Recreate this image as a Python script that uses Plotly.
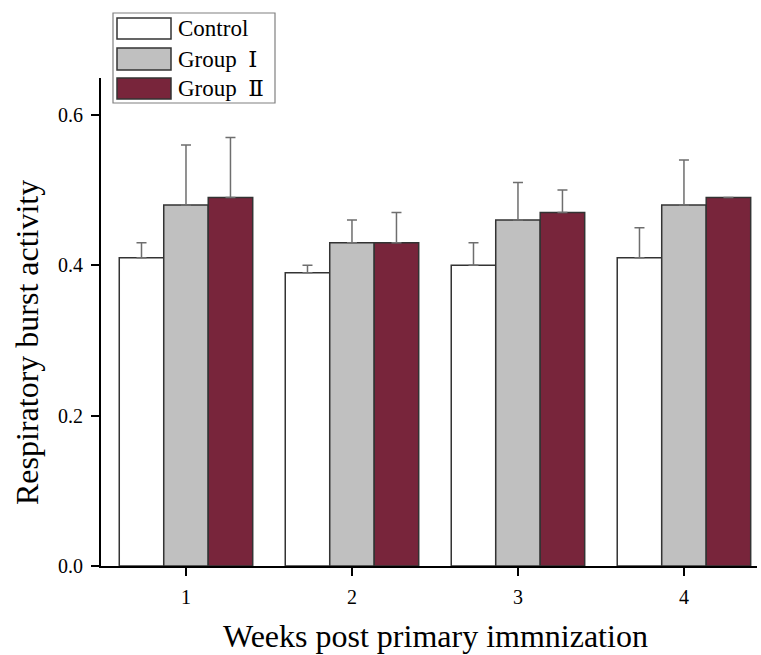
import plotly.graph_objects as go

weeks = [1, 2, 3, 4]
tick_labels = ["1", "2", "3", "4"]
series_names = ["Control", "Group\u2002Ⅰ", "Group\u2002Ⅱ"]
control = [0.41, 0.39, 0.40, 0.41]
group1 = [0.48, 0.43, 0.46, 0.48]
group2 = [0.49, 0.43, 0.47, 0.49]
control_err = [0.02, 0.01, 0.03, 0.04]
group1_err = [0.08, 0.03, 0.05, 0.06]
group2_err = [0.08, 0.04, 0.03, None]

colors = ["#ffffff", "#c0c0c0", "#78253b"]
FONT = "Liberation Serif, Times New Roman, serif"
LEGFONT = "Liberation Serif, DejaVu Serif, serif"

fig = go.Figure()
for name, vals, errs, col in zip(series_names, [control, group1, group2],
                                 [control_err, group1_err, group2_err], colors):
    fig.add_trace(go.Bar(
        x=weeks, y=vals, name=name,
        marker=dict(color=col, line=dict(color="#333333", width=1.5)),
        error_y=dict(type="data", array=errs, symmetric=False,
                     arrayminus=[0 if e is not None else None for e in errs],
                     color="#6e6e6e", thickness=1.5, width=5),
        showlegend=False,
    ))

# manual legend (box + swatches + labels) in pixel-like paper coordinates
W, H = 761, 655
ml, mr, mt, mb = 101, 4, 78, 89
pw, ph = W - ml - mr, H - mt - mb
def px(x):
    return (x - ml) / pw
def py(y):
    return (H - mb - y) / ph

shapes = [dict(type="rect", xref="paper", yref="paper",
               x0=px(113), x1=px(275), y0=py(103), y1=py(13),
               line=dict(color="#808080", width=1.2), fillcolor="rgba(255,255,255,1)")]
annotations = []
rows = [(18, 39), (48, 70), (78, 99)]
for (y0, y1), name, col in zip(rows, series_names, colors):
    shapes.append(dict(type="rect", xref="paper", yref="paper",
                       x0=px(117), x1=px(171), y0=py(y1), y1=py(y0),
                       line=dict(color="#333333", width=1.5), fillcolor=col))
    annotations.append(dict(xref="paper", yref="paper", x=px(176), y=py((y0 + y1) / 2),
                            text=name, showarrow=False, xanchor="left", yanchor="middle",
                            font=dict(family=LEGFONT, size=23, color="#000")))

# axis titles
annotations.append(dict(xref="paper", yref="paper", x=px(436), y=py(636),
                        text="Weeks post primary immnization", showarrow=False,
                        xanchor="center", yanchor="middle",
                        font=dict(family=FONT, size=32, color="#000")))
annotations.append(dict(xref="paper", yref="paper", x=px(27), y=py(343),
                        text="Respiratory burst activity", showarrow=False, textangle=-90,
                        xanchor="center", yanchor="middle",
                        font=dict(family=FONT, size=32, color="#000")))

fig.update_layout(
    width=W, height=H,
    margin=dict(l=ml, r=mr, t=mt, b=mb),
    paper_bgcolor="white", plot_bgcolor="white",
    barmode="group", bargap=0.196, bargroupgap=0,
    font=dict(family=FONT, color="#000"),
    shapes=shapes, annotations=annotations,
    xaxis=dict(range=[0.488, 4.44], tickvals=weeks, ticktext=tick_labels,
               showline=True, linecolor="#000", linewidth=2, showgrid=False,
               zeroline=False, ticks="outside", ticklen=8, tickwidth=2, tickcolor="#000",
               ticklabelstandoff=4,
               tickfont=dict(size=20, family=FONT)),
    yaxis=dict(range=[0, 0.649], tickvals=[0, 0.2, 0.4, 0.6],
               ticktext=["0.0", "0.2", "0.4", "0.6"],
               showline=True, linecolor="#000", linewidth=2, showgrid=False,
               zeroline=False, ticks="outside", ticklen=8, tickwidth=2, tickcolor="#000",
               ticklabelstandoff=4,
               tickfont=dict(size=20, family=FONT)),
)

fig.write_html("out.html", config={"displayModeBar": False},
               post_script="document.body.style.margin='0';")
